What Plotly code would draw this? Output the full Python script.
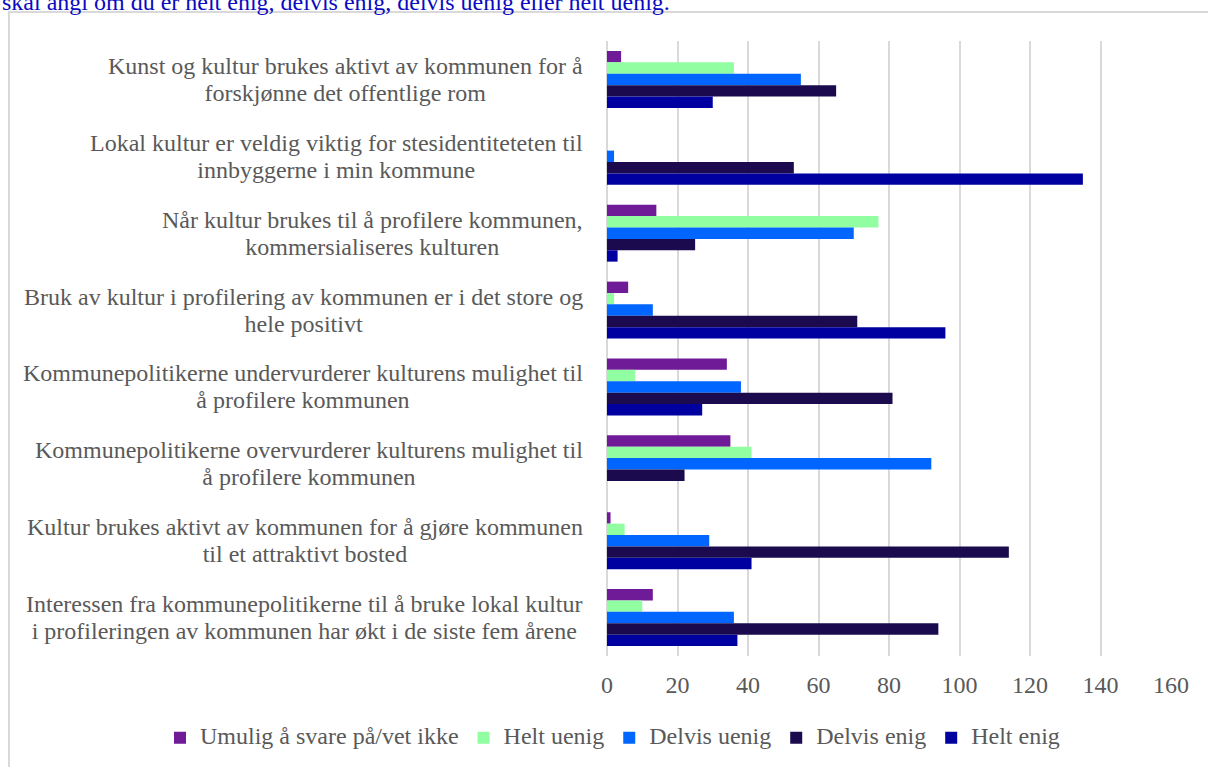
import plotly.graph_objects as go

categories = [
    "Kunst og kultur brukes aktivt av kommunen for å<br>forskjønne det offentlige rom",
    "Lokal kultur er veldig viktig for stesidentiteteten til<br>innbyggerne i min kommune",
    "Når kultur brukes til å profilere kommunen,<br>kommersialiseres kulturen",
    "Bruk av kultur i profilering av kommunen er i det store og<br>hele positivt",
    "Kommunepolitikerne undervurderer kulturens mulighet til<br>å profilere kommunen",
    "Kommunepolitikerne overvurderer kulturens mulighet til<br>å profilere kommunen",
    "Kultur brukes aktivt av kommunen for å gjøre kommunen<br>til et attraktivt bosted",
    "Interessen fra kommunepolitikerne til å bruke lokal kultur<br>i profileringen av kommunen har økt i de siste fem årene",
]

series_names = ["Umulig å svare på/vet ikke", "Helt uenig", "Delvis uenig", "Delvis enig", "Helt enig"]
umulig = [4, 0, 14, 6, 34, 35, 1, 13]
helt_uenig = [36, 0, 77, 2, 8, 41, 5, 10]
delvis_uenig = [55, 2, 70, 13, 38, 92, 29, 36]
delvis_enig = [65, 53, 25, 71, 81, 22, 114, 94]
helt_enig = [30, 135, 3, 96, 27, 0, 41, 37]
series_values = [umulig, helt_uenig, delvis_uenig, delvis_enig, helt_enig]
colors = ["#6F1A96", "#91FFA1", "#0066FF", "#1B0A4E", "#0000A0"]

x_ticks = [0, 20, 40, 60, 80, 100, 120, 140, 160]
title_text = "skal angi om du er helt enig, delvis enig, delvis uenig eller helt uenig."

FONT = "Liberation Serif, Times New Roman, serif"
TXT = 24

W, H = 1208, 767
ml, mr, mt, mb = 607, 37, 41, 109
pw, ph = W - ml - mr, H - mt - mb

def px_x(p):
    return (p - ml) / pw

def px_y(p):
    return (H - mb - p) / ph

fig = go.Figure()
for name, vals, col in zip(series_names, series_values, colors):
    fig.add_trace(go.Bar(
        y=list(range(len(categories))), x=vals,
        name=f"<span style='font-size:{TXT}px'>{name}</span>", orientation="h",
        marker=dict(color=col, line=dict(width=0)),
    ))

annotations = []
for i, cat in enumerate(categories):
    lines = cat.split("<br>")
    text = "<br>".join(f"<span style='font-size:{TXT}px'>{ln}</span>" for ln in lines)
    annotations.append(dict(
        x=px_x(585), xref="paper", y=i, yref="y", text=text,
        xanchor="right", yanchor="middle", align="center", showarrow=False,
        font=dict(family=FONT, size=20.5, color="#595959"),
    ))
annotations.append(dict(
    x=px_x(0), xref="paper", y=px_y(17), yref="paper", text=title_text,
    xanchor="left", yanchor="bottom", align="left", showarrow=False,
    font=dict(family=FONT, size=TXT, color="#0A0AC0"),
))

fig.update_layout(
    width=W, height=H,
    margin=dict(l=ml, r=mr, t=mt, b=mb),
    paper_bgcolor="white", plot_bgcolor="white",
    barmode="group", bargap=0.26, bargroupgap=0,
    font=dict(family=FONT, size=TXT, color="#595959"),
    xaxis=dict(
        range=[0, 160], tickvals=x_ticks, showgrid=True, gridcolor="#D9D9D9", gridwidth=2,
        zeroline=True, zerolinecolor="#D9D9D9", zerolinewidth=2, showline=False,
        ticks="outside", ticklen=7, tickcolor="rgba(0,0,0,0)",
        tickfont=dict(family=FONT, size=TXT, color="#595959"),
    ),
    yaxis=dict(
        range=[len(categories) - 0.5, -0.5], showticklabels=False, showgrid=False,
        zeroline=False, showline=False,
    ),
    legend=dict(
        orientation="h", x=px_x(160), xanchor="left", y=px_y(740), yanchor="middle",
        font=dict(family=FONT, size=16, color="#595959"), traceorder="normal",
        itemwidth=30,
    ),
    annotations=annotations,
    shapes=[dict(
        type="rect", xref="paper", yref="paper",
        x0=px_x(9), x1=px_x(1230), y0=px_y(790), y1=px_y(12),
        line=dict(color="#D9D9D9", width=2), layer="below",
    )],
)

fig.write_html("out.html", config={"displayModeBar": False},
               post_script="document.body.style.margin='0';")
